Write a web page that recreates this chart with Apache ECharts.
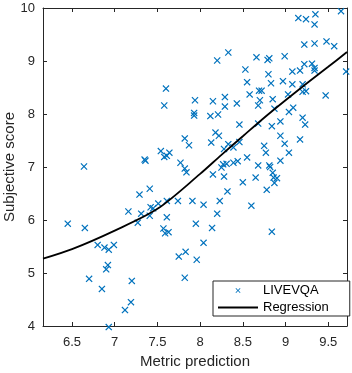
<!DOCTYPE html>
<html><head><meta charset="utf-8">
<script src="https://cdn.jsdelivr.net/npm/echarts@6/dist/echarts.min.js"></script>
<style>html,body{margin:0;padding:0;background:#fff}#c{width:352px;height:373px}</style>
</head><body><div id="c"></div>
<script>
const metricPrediction = [
7.60,7.58,7.94,7.93,7.93,9.15,9.24,9.35,9.34,9.65,
9.22,9.34,9.48,9.57,8.20,8.33,8.66,8.79,8.81,8.99,
8.53,8.80,9.08,9.17,9.22,9.31,9.34,9.34,9.71,8.55,
8.83,8.97,9.08,9.20,8.69,8.72,8.58,9.03,9.20,9.24,
9.47,8.15,8.29,8.43,8.70,8.85,8.68,8.29,8.12,8.21,
8.87,9.04,9.09,9.20,8.94,6.64,7.82,7.87,7.35,7.36,
7.54,7.64,7.58,7.61,7.77,7.82,7.84,7.29,7.41,7.16,
7.27,7.31,7.42,7.45,7.51,7.41,7.61,7.61,7.74,7.91,
6.45,6.65,7.57,7.59,7.63,7.95,9.23,8.46,8.68,8.84,
8.18,8.22,8.94,8.13,8.33,8.28,8.39,8.46,8.75,8.77,
8.99,9.04,9.17,8.55,8.39,8.44,8.31,8.25,8.27,8.68,
8.81,8.82,8.94,8.15,8.28,8.50,8.65,8.85,8.86,8.90,
8.87,8.78,8.32,8.04,8.23,8.20,8.60,8.14,8.84,6.80,
6.88,6.93,6.99,6.92,6.90,6.70,6.85,7.20,7.19,7.12,
6.93,7.75,7.83,7.96,7.82,8.04];
const subjectiveScore = [
8.48,8.16,8.26,8.02,7.97,9.81,9.79,9.88,9.69,9.94,
9.31,9.33,9.37,9.28,9.01,9.16,9.07,9.02,9.05,9.09,
8.84,8.75,8.80,8.82,8.94,8.95,8.87,8.82,8.80,8.60,
8.58,8.62,8.56,8.56,8.44,8.44,8.37,8.37,8.42,8.43,
8.35,8.24,8.32,8.20,8.26,8.28,8.16,8.14,7.96,7.99,
8.10,8.04,8.12,7.93,7.86,7.01,7.54,7.41,7.14,7.12,
7.30,7.27,7.19,7.21,7.08,6.97,6.90,6.48,6.59,6.16,
5.95,6.12,6.24,6.22,6.31,6.08,6.36,6.05,6.36,6.36,
5.93,5.85,5.84,5.75,5.77,5.93,7.80,7.80,7.82,7.77,
7.65,7.59,7.59,7.46,7.43,7.34,7.37,7.47,7.40,7.27,
7.44,7.27,7.52,7.18,7.08,7.11,7.06,6.99,7.05,7.03,
7.03,7.00,7.12,6.86,6.82,6.71,6.80,6.89,6.80,6.79,
6.70,6.57,6.54,6.29,6.36,6.12,6.27,5.85,5.78,5.53,
5.48,5.44,5.53,5.15,5.07,4.89,4.70,4.85,4.45,4.30,
3.98,5.31,5.40,5.25,4.91,5.57];
const regressionX = [6.16,6.5,7.0,7.5,8.0,8.25,8.5,8.75,9.0,9.25,9.5,9.72];
const regressionY = [5.27,5.45,5.80,6.21,6.87,7.23,7.58,7.93,8.26,8.58,8.89,9.17];
const xTickValues = [6.5,7,7.5,8,8.5,9,9.5];
const seriesNames = ['LIVEVQA','Regression'];
const xLabel = 'Metric prediction';
const yLabel = 'Subjective score';

const FONT = '"Liberation Sans", Arial, Helvetica, sans-serif';
const AX = '#262626';
const XMARK = 'path://M0,1.2L1.2,0L5,3.8L8.8,0L10,1.2L6.2,5L10,8.8L8.8,10L5,6.2L1.2,10L0,8.8L3.8,5Z';

const chart = echarts.init(document.getElementById('c'), null, {renderer:'canvas'});
const scatterData = metricPrediction.map((x,i)=>[x, subjectiveScore[i]]);
const lineData = regressionX.map((x,i)=>[x, regressionY[i]]);

const baseX = {
  type:'value', min:6.16, max:9.72, scale:true,
  axisLine:{show:true, onZero:false, lineStyle:{color:AX, width:1}},
  axisTick:{show:true, inside:true, length:4, customValues:xTickValues, lineStyle:{color:AX}},
  splitLine:{show:false}
};
const baseY = {
  type:'value', min:4, max:10, interval:1,
  axisLine:{show:true, onZero:false, lineStyle:{color:AX, width:1}},
  axisTick:{show:true, inside:true, length:4, lineStyle:{color:AX}},
  splitLine:{show:false}
};

chart.setOption({
  animation:false,
  backgroundColor:'#fff',
  grid:{left:43, right:5, top:8, bottom:47, containLabel:false, outerBoundsMode:'none'},
  xAxis:[
    Object.assign({}, baseX, {position:'bottom',
      axisLabel:{customValues:xTickValues, fontSize:13, margin:9.5, color:AX, fontFamily:FONT},
      name:xLabel, nameLocation:'middle', nameGap:28, nameMoveOverlap:false,
      nameTextStyle:{fontSize:15, color:AX, fontFamily:FONT}}),
    Object.assign({}, baseX, {position:'top', axisLabel:{show:false}})
  ],
  yAxis:[
    Object.assign({}, baseY, {position:'left',
      axisLabel:{fontSize:13, margin:8, color:AX, fontFamily:FONT},
      name:yLabel, nameLocation:'middle', nameGap:26, nameRotate:90, nameMoveOverlap:false,
      nameTextStyle:{fontSize:15, color:AX, fontFamily:FONT}}),
    Object.assign({}, baseY, {position:'right', axisLabel:{show:false}})
  ],
  legend:{
    data:[{name:seriesNames[0], icon:XMARK},
          {name:seriesNames[1], itemStyle:{color:'rgba(0,0,0,0)', borderColor:'rgba(0,0,0,0)', borderWidth:0}}],
    orient:'vertical', left:213, top:281,
    itemWidth:40, itemHeight:5, itemGap:4,
    padding:[3,21,2,4],
    borderColor:AX, borderWidth:1, backgroundColor:'#fff',
    selectedMode:false,
    textStyle:{fontSize:13, color:'#000', fontFamily:FONT}
  },
  series:[
    {name:seriesNames[0], type:'scatter', data:scatterData, symbol:XMARK, symbolSize:7,
     clip:false,
     itemStyle:{color:'#0072BD', opacity:1}},
    {name:seriesNames[1], type:'line', data:lineData, smooth:0.3, showSymbol:false, symbol:'none',
     lineStyle:{color:'#000', width:1.8}, itemStyle:{color:'#000'}, z:3}
  ]
});
</script></body></html>
